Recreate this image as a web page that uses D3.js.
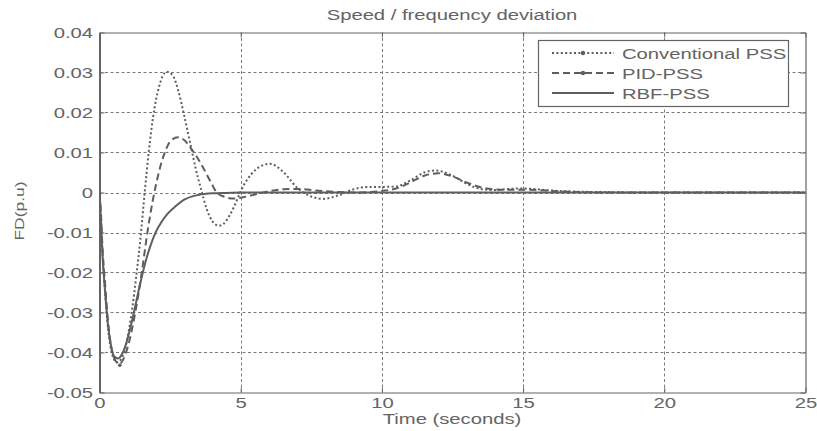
<!DOCTYPE html>
<html><head><meta charset="utf-8">
<script src="https://cdn.jsdelivr.net/npm/d3@7"></script>
<style>body{margin:0;background:#fff}svg{display:block}</style>
</head><body>
<script>
// ---- data ----
const xTicks = [0, 5, 10, 15, 20, 25];
const yTicks = [-0.05, -0.04, -0.03, -0.02, -0.01, 0, 0.01, 0.02, 0.03, 0.04];
const yTickLabels = ["-0.05","-0.04","-0.03","-0.02","-0.01","0","0.01","0.02","0.03","0.04"];
const seriesNames = ["Conventional PSS", "PID-PSS", "RBF-PSS"];

const convT = [0,0.05,0.1,0.2,0.3,0.4,0.5,0.62,0.75,0.9,1.05,1.15,1.3,1.45,1.6,1.75,1.9,2.1,2.38,2.6,2.8,3.0,3.2,3.4,3.6,3.8,4.0,4.23,4.4,4.6,4.8,5.0,5.5,6.03,6.5,7.0,7.5,7.92,8.5,9.0,9.5,10.0,10.5,11.0,11.5,11.9,12.5,13.0,13.5,14.0,14.5,15.0,15.5,16.0,17.0,18.0,19.0,20,22,25];
const convV = [0,-0.006,-0.014,-0.025,-0.034,-0.039,-0.0415,-0.0425,-0.0418,-0.0392,-0.034,-0.0295,-0.021,-0.0115,0.0,0.0105,0.019,0.0262,0.0302,0.0292,0.0252,0.0192,0.0127,0.0062,0.0007,-0.0042,-0.0072,-0.0083,-0.0078,-0.0058,-0.0030,0.0003,0.0055,0.0072,0.0052,0.0012,-0.0010,-0.0016,-0.0006,0.0008,0.0014,0.0014,0.0015,0.0030,0.0050,0.0055,0.0042,0.0022,0.0009,0.0006,0.0009,0.0010,0.0008,0.0005,0.0002,0.0001,0,0,0,0];

const pidT = [0,0.05,0.1,0.2,0.3,0.4,0.5,0.6,0.72,0.85,1.0,1.15,1.3,1.5,1.7,1.9,2.1,2.3,2.5,2.78,3.0,3.2,3.4,3.6,3.8,4.0,4.15,4.4,4.73,5.0,5.5,6.0,6.5,7.0,7.5,8.0,8.5,9.0,9.5,10.0,10.5,11.0,11.5,12.0,12.5,13.0,13.5,14.0,14.5,15.0,15.5,16.0,17.0,18.0,20,22,25];
const pidV = [0,-0.005,-0.013,-0.023,-0.032,-0.038,-0.041,-0.0424,-0.0428,-0.0416,-0.0386,-0.0342,-0.0287,-0.0198,-0.0098,-0.0015,0.005,0.0098,0.0127,0.0138,0.0131,0.0114,0.0094,0.0071,0.0045,0.0018,0.0,-0.0010,-0.0015,-0.0013,-0.0005,0.0003,0.0008,0.0009,0.0006,0.0003,0.0001,0.0,0.0001,0.0004,0.0010,0.0025,0.0042,0.0048,0.0040,0.0025,0.0013,0.0008,0.0007,0.0007,0.0006,0.0004,0.0001,0,0,0,0];

const rbfT = [0,0.05,0.1,0.2,0.3,0.4,0.5,0.65,0.8,0.96,1.1,1.2,1.4,1.6,1.8,2.0,2.2,2.4,2.7,3.0,3.5,4.0,4.5,5.0,10,15,20,25];
const rbfV = [0,-0.007,-0.015,-0.025,-0.033,-0.038,-0.0408,-0.0415,-0.0404,-0.0374,-0.0336,-0.0306,-0.0241,-0.0181,-0.0134,-0.0098,-0.0073,-0.0054,-0.0034,-0.0018,-0.0006,-0.0002,-0.0001,0,0,0,0,0];

// ---- layout ----
const W = 817, H = 431;
const L = 99.5, R = 805.5, T = 32.5, B = 392.5;
const SX = 1.35, FS = 15;
const grey = "#646464";

const svg = d3.select("body").append("svg").attr("width", W).attr("height", H)
  .style("font-family", "Arial, 'Liberation Sans', Helvetica, sans-serif");

const x = d3.scaleLinear().domain([0, 25]).range([L, R]);
const y = d3.scaleLinear().domain([-0.05, 0.04]).range([B, T]);

// grid
const grid = svg.append("g");
grid.selectAll(".gx").data(xTicks.slice(1, -1)).join("line")
  .attr("x1", d => Math.round(x(d)) + 0.5).attr("x2", d => Math.round(x(d)) + 0.5)
  .attr("y1", T).attr("y2", B)
  .attr("stroke", "#7a7a7a").attr("stroke-width", 1).attr("stroke-dasharray", "3,2.5");
grid.selectAll(".gy").data(yTicks.slice(1, -1)).join("line")
  .attr("y1", d => Math.round(y(d)) + 0.5).attr("y2", d => Math.round(y(d)) + 0.5)
  .attr("x1", L).attr("x2", R)
  .attr("stroke", "#7a7a7a").attr("stroke-width", 1).attr("stroke-dasharray", "3,2.5");

// axes
const ax = svg.append("g").attr("transform", `translate(0,${B})`)
  .call(d3.axisBottom(x).tickValues(xTicks).tickSize(-5).tickSizeOuter(0).tickFormat(d3.format("d")));
const ay = svg.append("g").attr("transform", `translate(${L},0)`)
  .call(d3.axisLeft(y).tickValues(yTicks).tickSize(-5).tickSizeOuter(0).tickFormat((d, i) => yTickLabels[i]));
const axTop = svg.append("g").attr("transform", `translate(0,${T})`)
  .call(d3.axisTop(x).tickValues(xTicks).tickSize(-5).tickSizeOuter(0).tickFormat(""));
const ayRight = svg.append("g").attr("transform", `translate(${R},0)`)
  .call(d3.axisRight(y).tickValues(yTicks).tickSize(-5).tickSizeOuter(0).tickFormat(""));
[ax, ay, axTop, ayRight].forEach(g => {
  g.select(".domain").attr("stroke", grey).attr("stroke-width", 1.2);
  g.selectAll(".tick line").attr("stroke", grey);
});
ay.select(".domain").attr("stroke-width", 2);
ax.selectAll("text").attr("fill", grey).attr("font-size", FS).attr("y", 16 ).attr("dy", "0")
  .attr("transform", `scale(${SX},1)`);
ay.selectAll("text").attr("fill", grey).attr("font-size", FS).attr("x", -6.5 / SX).attr("dy", "0.3em")
  .attr("transform", `scale(${SX},1)`);

// clip
svg.append("clipPath").attr("id", "clip").append("rect")
  .attr("x", L).attr("y", T).attr("width", R - L).attr("height", B - T);

const line = d3.line().x(d => x(d[0])).y(d => y(d[1])).curve(d3.curveMonotoneX);
const series = [
  {t: convT, v: convV, dash: "2,2.4", name: seriesNames[0]},
  {t: pidT, v: pidV, dash: "7,4", name: seriesNames[1]},
  {t: rbfT, v: rbfV, dash: null, name: seriesNames[2]}
];
const plot = svg.append("g").attr("clip-path", "url(#clip)");
series.forEach(s => {
  plot.append("path").datum(s.t.map((t, i) => [t, s.v[i]]))
    .attr("d", line).attr("fill", "none").attr("stroke", "#5e5e5e")
    .attr("stroke-width", 2).attr("stroke-dasharray", s.dash);
});
// marker dot visible at PID minimum
plot.append("circle").attr("cx", x(pidT[8])).attr("cy", y(pidV[8]) + 1.5).attr("r", 1.8).attr("fill", "#5e5e5e");

// title & labels
function stretchedText(g, tx, ty, str, anchor, size) {
  return g.append("text").attr("transform", `translate(${tx},${ty}) scale(${SX},1)`)
    .attr("text-anchor", anchor).attr("font-size", size || FS).attr("fill", grey).text(str);
}
stretchedText(svg, 452, 20, "Speed / frequency deviation", "middle");
stretchedText(svg, 452, 424, "Time (seconds)", "middle");
svg.append("text").attr("transform", "translate(24,211) rotate(-90) scale(1.4,1)")
  .attr("text-anchor", "middle").attr("font-size", 12.5).attr("fill", grey).text("FD(p.u)");

// legend
const lg = svg.append("g");
lg.append("rect").attr("x", 538.5).attr("y", 40.5).attr("width", 250).attr("height", 66)
  .attr("fill", "#fff").attr("stroke", grey).attr("stroke-width", 1.2);
series.forEach((s, i) => {
  const cy = 53 + i * 20;
  lg.append("line").attr("x1", 552).attr("x2", 614).attr("y1", cy).attr("y2", cy)
    .attr("stroke", "#5e5e5e").attr("stroke-width", 2).attr("stroke-dasharray", s.dash);
  if (i < 2) lg.append("circle").attr("cx", 583).attr("cy", cy).attr("r", 2.2).attr("fill", "#5e5e5e");
  stretchedText(lg, 622, cy + 5.5, s.name, "start");
});
</script>
</body></html>
